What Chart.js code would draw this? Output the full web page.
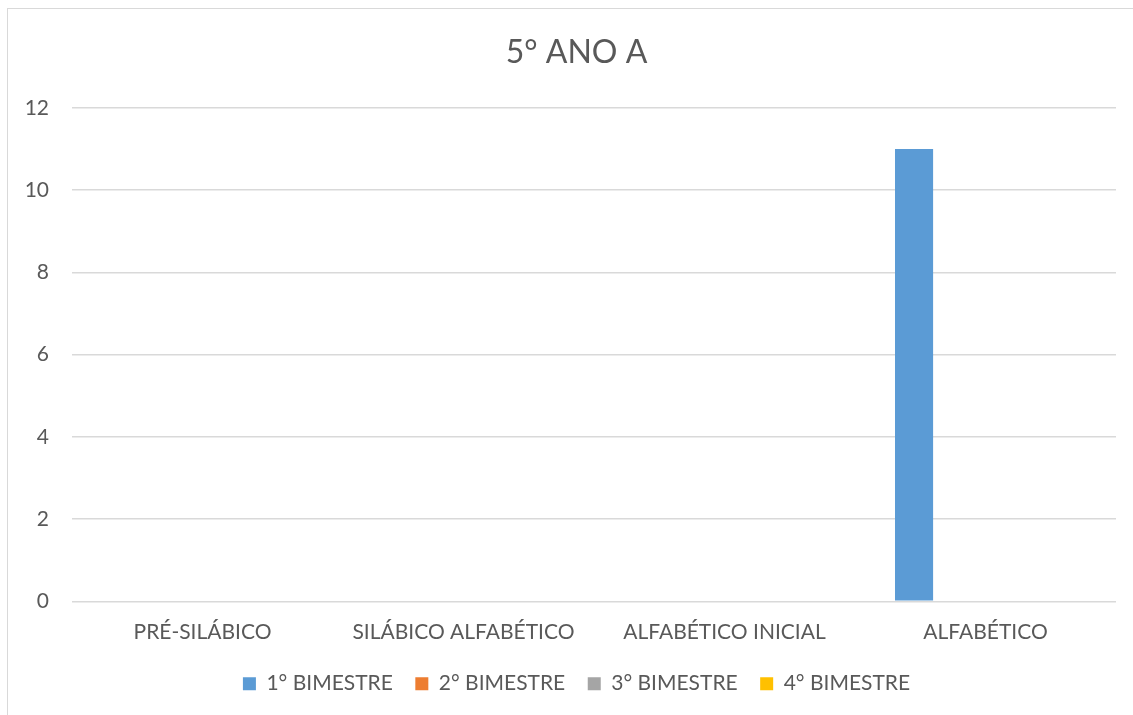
<!DOCTYPE html>
<html>
<head>
<meta charset="utf-8">
<script src="https://cdn.jsdelivr.net/npm/chart.js@4"></script>
<style>
  html, body { margin: 0; padding: 0; background: #fff; overflow: hidden; }
  #frame {
    position: absolute; left: 7px; top: 8px; width: 1200px; height: 800px;
    border: 1.5px solid #d9d9d9; box-sizing: border-box;
  }
  #chart { position: absolute; left: 0; top: 0; }
</style>
</head>
<body>
<div id="frame"></div>
<canvas id="chart" width="1133" height="730"></canvas>
<script>
  const categories = ["PRÉ-SILÁBICO", "SILÁBICO ALFABÉTICO", "ALFABÉTICO INICIAL", "ALFABÉTICO"];
  const bim1 = [0, 0, 0, 11];
  const bim2 = [0, 0, 0, 0];
  const bim3 = [0, 0, 0, 0];
  const bim4 = [0, 0, 0, 0];
  const seriesNames = ["1° BIMESTRE", "2° BIMESTRE", "3° BIMESTRE", "4° BIMESTRE"];
  const seriesColors = ["#5b9bd5", "#ed7d31", "#a5a5a5", "#ffc000"];

  const textColor = "#595959";
  const font = "Lato";
  const labelSize = 21;

  const ctx = document.getElementById("chart").getContext("2d");

  new Chart(ctx, {
    type: "bar",
    data: {
      labels: categories,
      datasets: [bim1, bim2, bim3, bim4].map((values, i) => ({
        label: seriesNames[i],
        data: values,
        backgroundColor: seriesColors[i],
        borderWidth: 0,
        categoryPercentage: 0.73,
        barPercentage: 0.8
      }))
    },
    options: {
      responsive: false,
      animation: false,
      devicePixelRatio: 1,
      layout: { padding: { left: 20, right: 0, top: 0, bottom: 25.85 } },
      plugins: {
        title: {
          display: true,
          text: "5° ANO A",
          color: textColor,
          font: { family: font, size: 32, weight: "normal" },
          padding: { top: 33.8, bottom: 35.8 }
        },
        legend: {
          position: "bottom",
          labels: {
            color: textColor,
            font: { family: font, size: labelSize },
            boxWidth: 13,
            boxHeight: 13,
            padding: 22.5
          }
        },
        tooltip: { enabled: false }
      },
      scales: {
        x: {
          grid: { display: false, drawTicks: false },
          border: { display: false },
          ticks: {
            color: textColor,
            font: { family: font, size: labelSize },
            padding: 18,
            maxRotation: 0
          },
          afterFit: scale => { scale.height = 49.4; }
        },
        y: {
          min: 0,
          max: 12,
          grid: { color: "#d9d9d9", lineWidth: 1.5, drawTicks: false },
          border: { display: false },
          ticks: {
            stepSize: 2,
            color: textColor,
            font: { family: font, size: labelSize },
            padding: 23
          },
          afterFit: scale => { scale.width = 52; }
        },
        // empty right-hand strip so the title and legend centre like the plot frame
        yRight: {
          position: "right",
          grid: { display: false, drawTicks: false },
          border: { display: false },
          ticks: { display: false },
          afterFit: scale => { scale.width = 17; }
        }
      }
    }
  });
</script>
</body>
</html>
